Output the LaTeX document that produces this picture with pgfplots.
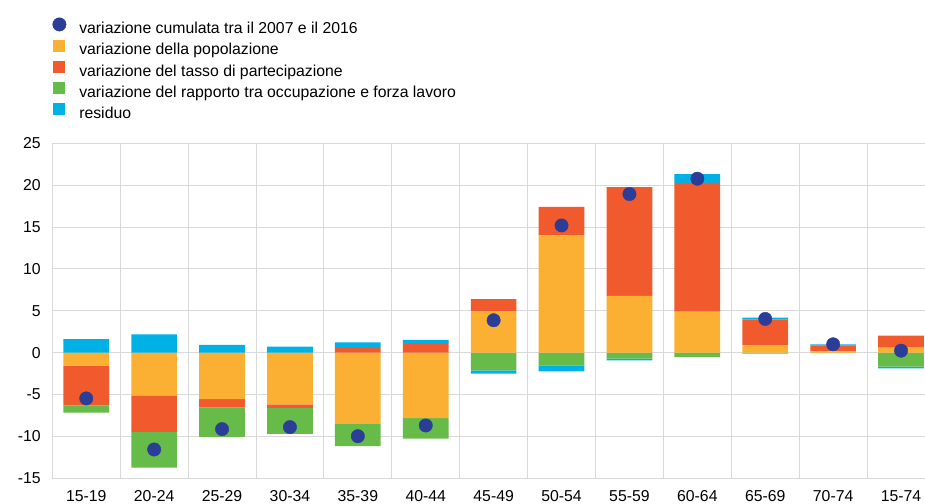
\documentclass[border=0pt]{standalone}
\usepackage{pgfplots}
\pgfplotsset{compat=1.18}
\usepackage{pgfplotstable}
\usepackage{fontspec}
\setmainfont{Liberation Sans}
\definecolor{cdot}{RGB}{43,61,150}
\definecolor{cpop}{RGB}{251,176,52}
\definecolor{cpart}{RGB}{240,90,44}
\definecolor{cempl}{RGB}{103,187,72}
\definecolor{cres}{RGB}{0,177,230}
\definecolor{cgrid}{RGB}{217,217,217}
\pgfplotstableread{
x pop part empl resid dot
0 -1.55 -4.75 -0.85 1.63 -5.46
1 -5.10 -4.35 -4.27 2.19 -11.56
2 -5.54 -1.00 -3.51 0.92 -9.13
3 -6.18 -0.40 -3.11 0.72 -8.89
4 -8.49 0.56 -2.67 0.68 -9.97
5 -7.81 1.04 -2.44 0.48 -8.69
6 4.94 1.44 -2.11 -0.40 3.87
7 14.00 3.42 -1.52 -0.71 15.19
8 6.78 13.00 -0.72 -0.20 18.94
9 4.90 15.36 -0.52 1.07 20.77
10 0.88 3.07 -0.12 0.24 4.03
11 0.16 0.72 -0.05 0.12 1.00
12 0.60 1.43 -1.67 -0.20 0.24
}\data
\pgfplotsset{
  barc/.style={draw=none, fill=#1,
    legend image code/.code={\fill[#1] (0bp,-1bp) rectangle (12bp,11bp);}},
  common/.style={at={(52.3bp,25.7bp)}, anchor=south west, scale only axis,
    width=872.7bp, height=335bp, xmin=-0.5, xmax=12.353, ymin=-15, ymax=25,
    enlargelimits=false},
}
\begin{document}
\begin{tikzpicture}
\useasboundingbox (0,0) rectangle (925bp,504bp);
\clip (0,0) rectangle (925bp,504bp);
\begin{axis}[common,
  ybar stacked, bar width=45.7bp,
  xtick={0,...,12},
  xticklabels={15-19,20-24,25-29,30-34,35-39,40-44,45-49,50-54,55-59,60-64,65-69,70-74,15-74},
  minor xtick={0.5,1.5,...,11.5},
  xminorgrids, ymajorgrids,
  ytick={-15,-10,-5,0,5,10,15,20,25},
  yticklabels={-15,-10,-5,0,5,10,15,20,25},
  grid style={cgrid, line width=0.9bp},
  minor grid style={cgrid, line width=0.9bp},
  axis x line*=bottom, axis y line*=left,
  axis line style={cgrid, line width=0.9bp},
  tick style={draw=none}, major tick length=0pt, minor tick length=0pt,
  tick label style={font=\fontsize{15.8bp}{19bp}\selectfont},
  xticklabel style={yshift=-8.5bp},
  yticklabel style={xshift=-8bp},
  legend cell align=left,
  legend style={at={(0,1.376)}, anchor=north west, draw=none, fill=none,
    inner sep=0pt, font=\fontsize{15.8bp}{19bp}\selectfont, row sep=2.5bp,
    nodes={inner sep=0pt, text height=12bp, text depth=3.5bp},
    /tikz/every odd column/.style={column sep=13bp}},
]
\addlegendimage{legend image code/.code={\fill[cdot] (6bp,5bp) circle (6.7bp);}}
\addplot[barc=cpop] table[x=x, y expr={max(\thisrow{pop},0)}]{\data};
\addplot[barc=cpart] table[x=x, y expr={max(\thisrow{part},0)}]{\data};
\addplot[barc=cempl] table[x=x, y expr={max(\thisrow{empl},0)}]{\data};
\addplot[barc=cres] table[x=x, y expr={max(\thisrow{resid},0)}]{\data};
\addplot[barc=cpop, forget plot] table[x=x, y expr={min(\thisrow{pop},0)}]{\data};
\addplot[barc=cpart, forget plot] table[x=x, y expr={min(\thisrow{part},0)}]{\data};
\addplot[barc=cempl, forget plot] table[x=x, y expr={min(\thisrow{empl},0)}]{\data};
\addplot[barc=cres, forget plot] table[x=x, y expr={min(\thisrow{resid},0)}]{\data};
\legend{variazione cumulata tra il 2007 e il 2016,variazione della popolazione,variazione del tasso di partecipazione,variazione del rapporto tra occupazione e forza lavoro,residuo}
\end{axis}
\begin{axis}[common, hide axis, clip=false]
\addplot[only marks, mark=*, mark size=6.7bp, color=cdot] table[x=x, y=dot]{\data};
\end{axis}
\end{tikzpicture}
\end{document}
